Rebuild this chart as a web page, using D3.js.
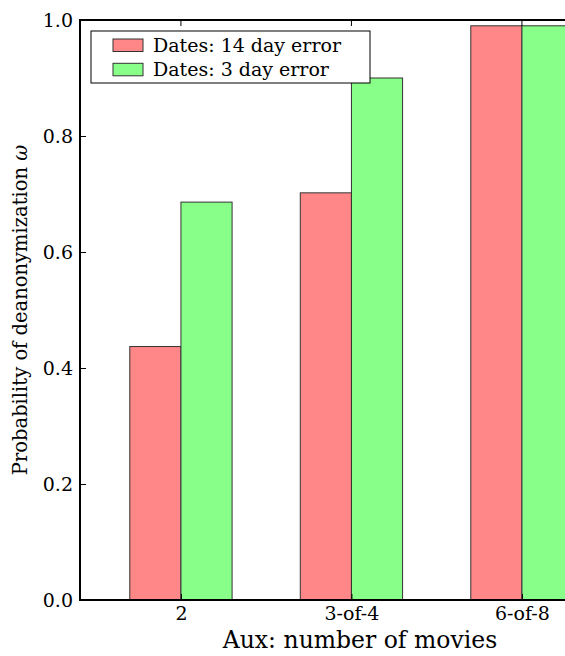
<!DOCTYPE html>
<html><head><meta charset="utf-8">
<script src="https://cdn.jsdelivr.net/npm/d3@7"></script>
<style>body{margin:0;background:#fff}svg{display:block}text{font-family:"DejaVu Serif",serif;fill:#000}</style>
</head><body>
<svg id="c" width="565" height="656"></svg>
<script>
const categories = ["2", "3-of-4", "6-of-8"];
const seriesNames = ["Dates: 14 day error", "Dates: 3 day error"];
const err14 = [0.437, 0.702, 0.990];
const err3 = [0.686, 0.900, 0.990];
const yTicks = [0.0, 0.2, 0.4, 0.6, 0.8, 1.0];
const colors = ["#ff8787", "#88ff88"];

const svg = d3.select("#c");
const L = 80, T = 20, B = 600;
const unit = 170.5;
const R = L + 3.184 * unit;
const x = d3.scaleLinear().domain([-0.592, 2.592]).range([L, R]);
const y = d3.scaleLinear().domain([0, 1]).range([B, T]);
const bw = 0.3;

const series = [err14, err3];
series.forEach((vals, s) => {
  svg.append("g").selectAll("rect").data(vals).join("rect")
    .attr("x", (d, i) => x(i + (s - 1) * bw))
    .attr("y", d => y(d))
    .attr("width", x(bw) - x(0))
    .attr("height", d => y(0) - y(d))
    .attr("fill", colors[s])
    .attr("stroke", "#333")
    .attr("stroke-width", 1);
});

// axes
const yAxis = d3.axisLeft(y).tickValues(yTicks).tickFormat(d3.format(".1f")).tickSizeInner(-6).tickSizeOuter(0).tickPadding(7);
const gy = svg.append("g").attr("transform", `translate(${L},0)`).call(yAxis);
gy.select(".domain").remove();
gy.selectAll("text").style("font-size", "19px").attr("font-family", "DejaVu Serif");
gy.selectAll("line").attr("stroke", "#000");

const xAxis = d3.axisBottom(x).tickValues([0, 1, 2]).tickFormat(i => categories[i]).tickSizeInner(-6).tickSizeOuter(0).tickPadding(7);
const gx = svg.append("g").attr("transform", `translate(0,${B})`).call(xAxis);
gx.select(".domain").remove();
gx.selectAll("text").style("font-size", "19px").attr("font-family", "DejaVu Serif");
gx.selectAll("line").attr("stroke", "#000");

// top ticks
svg.append("g").selectAll("line").data([0, 1, 2]).join("line")
  .attr("x1", d => x(d)).attr("x2", d => x(d)).attr("y1", T).attr("y2", T + 6).attr("stroke", "#000");

// frame
svg.append("rect").attr("x", L).attr("y", T).attr("width", R - L).attr("height", B - T)
  .attr("fill", "none").attr("stroke", "#000").attr("stroke-width", 2);

// labels
svg.append("text").attr("x", 360).attr("y", 648).attr("text-anchor", "middle")
  .style("font-size", "23.5px").text("Aux: number of movies");
svg.append("text").attr("transform", `translate(27,${(T + B) / 2}) rotate(-90)`).attr("text-anchor", "middle")
  .style("font-size", "19.5px").html('Probability of deanonymization <tspan font-style="italic">ω</tspan>');

// legend
const lg = svg.append("g");
lg.append("rect").attr("x", 91).attr("y", 31).attr("width", 279).attr("height", 52)
  .attr("fill", "#fff").attr("stroke", "#000").attr("stroke-width", 1);
seriesNames.forEach((n, i) => {
  lg.append("rect").attr("x", 113).attr("y", 39 + i * 24.3).attr("width", 30).attr("height", 12.5)
    .attr("fill", colors[i]).attr("stroke", "#333");
  lg.append("text").attr("x", 153).attr("y", 52 + i * 24.3).style("font-size", "19px").text(n);
});
</script>
</body></html>
